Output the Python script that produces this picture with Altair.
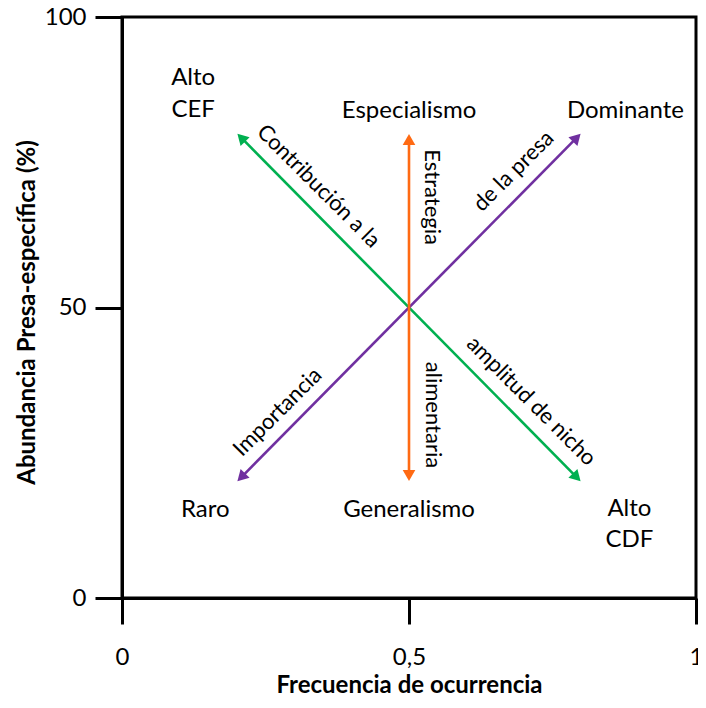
import math
import altair as alt
import pandas as pd

# ---- data ----
arrow_x1 = [0.2, 0.2, 0.5]
arrow_y1 = [80, 20, 20]
arrow_x2 = [0.8, 0.8, 0.5]
arrow_y2 = [20, 80, 80]
arrow_colors = ["#00B050", "#7030A0", "#FF6A13"]

corner_text = ["Alto", "CEF", "Especialismo", "Dominante", "Raro", "Generalismo", "Alto", "CDF"]
corner_x = [0.124, 0.124, 0.5, 0.877, 0.145, 0.5, 0.884, 0.884]
corner_y = [88.3, 82.8, 82.6, 82.6, 13.9, 13.9, 14.1, 8.8]

diag_text = ["Contribución a la", "de la presa", "Estrategia", "alimentaria", "Importancia", "amplitud de nicho"]
diag_x = [0.3425, 0.682, 0.540, 0.542, 0.271, 0.713]
diag_y = [70.9, 73.5, 69.0, 31.5, 32.0, 33.9]
diag_angle = [45, 315, 90, 90, 315, 45]

x_ticks = [0, 0.5, 1]
y_ticks = [0, 50, 100]

# ---- layout ----
W, H = 574, 581
HEAD_SIZE = 160
r = math.sqrt(HEAD_SIZE) / 2.0

seg_rows, head_rows = [], []
for x1, y1, x2, y2, c in zip(arrow_x1, arrow_y1, arrow_x2, arrow_y2, arrow_colors):
    centers = []
    for (tx, ty), (ox, oy) in (((x2, y2), (x1, y1)), ((x1, y1), (x2, y2))):
        dxp = (tx - ox) * W
        dyp = -(ty - oy) / 100.0 * H
        L = math.hypot(dxp, dyp)
        ux, uy = dxp / L, dyp / L
        cx = tx - r * ux / W
        cy = ty + r * uy * 100.0 / H
        ang = math.degrees(math.atan2(ux, -uy)) % 360
        head_rows.append({"x": cx, "y": cy, "angle": ang, "color": c})
        centers.append((cx, cy))
    seg_rows.append({"x": centers[0][0], "y": centers[0][1],
                     "x2": centers[1][0], "y2": centers[1][1], "color": c})

seg_df = pd.DataFrame(seg_rows)
head_df = pd.DataFrame(head_rows)
corner_df = pd.DataFrame({"x": corner_x, "y": corner_y, "t": corner_text})
diag_df = pd.DataFrame({"x": diag_x, "y": diag_y, "t": diag_text, "a": diag_angle})

FONT = "Lato"
xs = alt.Scale(domain=[0, 1], nice=False, zero=False)
ys = alt.Scale(domain=[0, 100], nice=False, zero=False)

xaxis = alt.Axis(values=x_ticks, title="Frecuencia de ocurrencia", grid=False,
                 labelExpr="replace(format(datum.value, '~g'), '.', ',')",
                 tickSize=26, tickWidth=3, tickColor="black",
                 domainWidth=3, domainColor="black",
                 labelFont=FONT, labelFontSize=24, labelColor="black",
                 labelBaseline="alphabetic", labelPadding=40, labelFlush=False,
                 titleFont=FONT, titleFontSize=24, titleFontWeight="bold", titleColor="black",
                 titleBaseline="alphabetic", titleY=94)
yaxis = alt.Axis(values=y_ticks, title="Abundancia  Presa-específica (%)", grid=False,
                 tickSize=27, tickWidth=3, tickColor="black",
                 domainWidth=3, domainColor="black",
                 labelFont=FONT, labelFontSize=24, labelColor="black",
                 labelAlign="right", labelBaseline="middle", labelPadding=9, labelFlush=False,
                 titleFont=FONT, titleFontSize=24, titleFontWeight="bold", titleColor="black",
                 titleBaseline="alphabetic", titleAngle=-90, titleX=-88, titleY=295,
                 titleAlign="center")


def X(f):
    return alt.X(f, type="quantitative", scale=xs, axis=xaxis)


def Y(f):
    return alt.Y(f, type="quantitative", scale=ys, axis=yaxis)


segs = alt.Chart(seg_df).mark_rule(strokeWidth=2.6).encode(
    x=X("x"), y=Y("y"), x2="x2", y2="y2",
    color=alt.Color("color:N", scale=None),
)
heads = alt.Chart(head_df).mark_point(shape="triangle-up", filled=True, opacity=1,
                                      size=HEAD_SIZE, strokeWidth=0).encode(
    x=X("x"), y=Y("y"),
    angle=alt.Angle("angle:Q", scale=None),
    color=alt.Color("color:N", scale=None),
)
corners = alt.Chart(corner_df).mark_text(font=FONT, fontSize=24, color="black",
                                         align="center", baseline="alphabetic").encode(
    x=X("x"), y=Y("y"), text="t:N",
)
diag = alt.Chart(diag_df).mark_text(font=FONT, fontSize=22, color="black",
                                    align="center", baseline="middle").encode(
    x=X("x"), y=Y("y"), text="t:N",
    angle=alt.Angle("a:Q", scale=None),
)

chart = alt.layer(segs, heads, corners, diag).properties(
    width=W, height=H,
    autosize=alt.AutoSizeParams(type="none"),
    padding={"left": 114, "top": 9, "right": 2, "bottom": 98},
    background="white",
).configure_view(stroke="black", strokeWidth=3)

chart.save("out.html", embed_options={"renderer": "svg", "actions": False})
